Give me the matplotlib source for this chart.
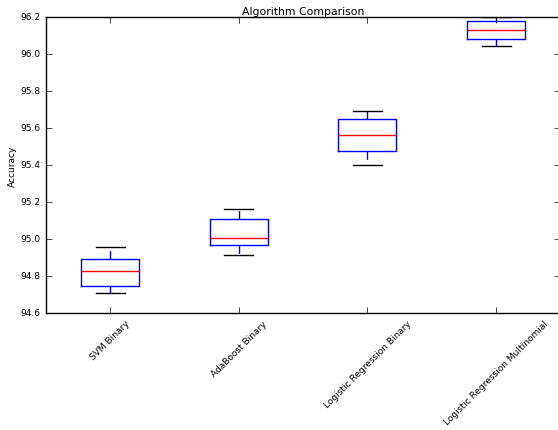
import matplotlib
matplotlib.use("Agg")
import matplotlib.pyplot as plt

plt.style.use("classic")

names = ["SVM Binary", "AdaBoost Binary", "Logistic Regression Binary",
         "Logistic Regression Multinomial"]
whis_lo = [94.706, 94.915, 95.399, 96.041]
q1 = [94.745, 94.968, 95.475, 96.079]
medians = [94.829, 95.007, 95.560, 96.128]
q3 = [94.894, 95.110, 95.651, 96.177]
whis_hi = [94.955, 95.160, 95.691, 96.200]

stats = []
for n, lo, a, m, b, hi in zip(names, whis_lo, q1, medians, q3, whis_hi):
    stats.append(dict(label=n, whislo=lo, q1=a, med=m, q3=b, whishi=hi, fliers=[]))

fig = plt.figure(figsize=(5.58, 4.31), dpi=100, facecolor="white")
ax = fig.add_axes([45.7 / 558, 117 / 431, 514.8 / 558, 296 / 431])

ax.bxp(stats, widths=0.45)

ax.set_ylim(94.6, 96.2)
ax.set_xlim(0.5, 4.5)
ax.set_title("Algorithm Comparison", fontsize=7.8, pad=2.5)
ax.set_ylabel("Accuracy", fontsize=6.5, labelpad=2)
ax.tick_params(axis="both", labelsize=6.5)
ax.set_xticklabels(names, rotation=45, ha="center")

fig.savefig("out.png", dpi=100, facecolor="white")
